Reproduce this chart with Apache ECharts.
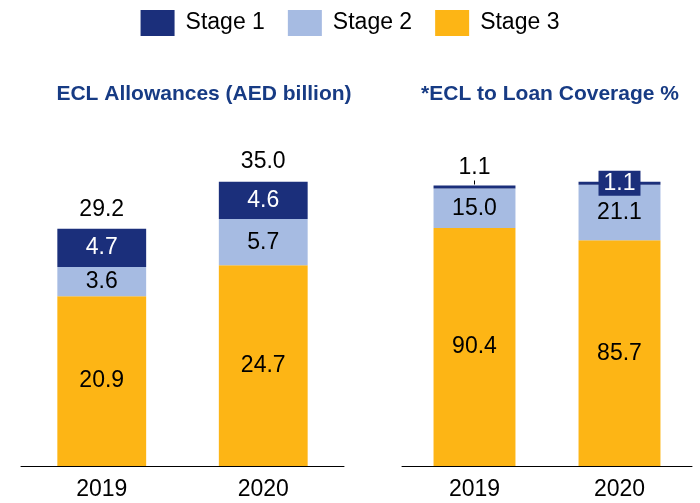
<!DOCTYPE html>
<html>
<head>
<meta charset="utf-8">
<script src="https://cdn.jsdelivr.net/npm/echarts@6/dist/echarts.min.js"></script>
<style>
  html, body { margin: 0; padding: 0; background: #fff; }
  #chart { width: 700px; height: 503px; }
</style>
</head>
<body>
<div id="chart"></div>
<script>
// data
const years = ['2019', '2020']
const stageNames = ['Stage 1', 'Stage 2', 'Stage 3']

// ECL allowances (AED billion)
const eclStage1 = [4.7, 4.6]
const eclStage2 = [3.6, 5.7]
const eclStage3 = [20.9, 24.7]
const eclTotals = [29.2, 35.0]

// ECL to loan coverage %
const covStage1 = [1.1, 1.1]
const covStage2 = [15.0, 21.1]
const covStage3 = [90.4, 85.7]

const NAVY = '#1b2f7b'
const LIGHT = '#a6bbe2'
const GOLD = '#fdb515'
const FONT = '"Liberation Sans", Arial, sans-serif'

const chart = echarts.init(document.getElementById('chart'))

function bar(name, data, idx, stack, barWidth, color, labelColor) {
  return {
    name: name,
    type: 'bar',
    stack: stack,
    xAxisIndex: idx,
    yAxisIndex: idx,
    barWidth: barWidth,
    data: data,
    itemStyle: { color: color },
    label: {
      show: true,
      position: 'inside',
      color: labelColor,
      fontFamily: FONT,
      fontSize: 23,
      formatter: p => p.value.toFixed(1)
    }
  }
}

// right panel stage 1 is too thin, labels sit outside / in a box
const covStage1Data = covStage1.map((v, i) => {
  if (i === 0) {
    return {
      value: v,
      label: {
        position: 'top',
        distance: 1,
        color: '#000',
        formatter: '{v|' + v.toFixed(1) + '}\n{t|}',
        rich: {
          v: { fontSize: 23, fontFamily: FONT, color: '#000', lineHeight: 25 },
          t: { width: 1, height: 4, backgroundColor: '#000' }
        }
      }
    }
  }
  return {
    value: v,
    label: {
      position: 'inside',
      color: '#fff',
      backgroundColor: NAVY,
      padding: [1, 5, 1, 5],
      lineHeight: 23,
      formatter: v.toFixed(1)
    }
  }
})

const axisX = (idx) => ({
  type: 'category',
  gridIndex: idx,
  data: years,
  axisLine: { lineStyle: { color: '#000', width: 1 } },
  axisTick: { show: false },
  axisLabel: { color: '#000', fontFamily: FONT, fontSize: 23, margin: 12 }
})

const option = {
  animation: false,
  legend: {
    top: 5,
    left: 'center',
    data: stageNames,
    itemWidth: 34,
    itemHeight: 26,
    itemGap: 23,
    icon: 'rect',
    textStyle: { color: '#000', fontFamily: FONT, fontSize: 23, padding: [0, 0, 0, 6] }
  },
  title: [
    {
      text: 'ECL Allowances (AED billion)',
      left: 204, top: 84, textAlign: 'center', padding: 0,
      textStyle: { color: '#173b84', fontFamily: FONT, fontSize: 21, fontWeight: 'bold' }
    },
    {
      text: '*ECL to Loan Coverage %',
      left: 550, top: 84, textAlign: 'center', padding: 0,
      textStyle: { color: '#173b84', fontFamily: FONT, fontSize: 21, fontWeight: 'bold' }
    }
  ],
  grid: [
    { left: 21, right: 356, top: 141, bottom: 37 },
    { left: 402, right: 8, top: 150, bottom: 37 }
  ],
  xAxis: [axisX(0), axisX(1)],
  yAxis: [
    { type: 'value', gridIndex: 0, min: 0, max: 40, show: false, splitLine: { show: false } },
    { type: 'value', gridIndex: 1, min: 0, max: 120, show: false, splitLine: { show: false } }
  ],
  series: [
    bar('Stage 3', eclStage3, 0, 'ecl', '55%', GOLD, '#000'),
    bar('Stage 2', eclStage2, 0, 'ecl', '55%', LIGHT, '#000'),
    bar('Stage 1', eclStage1, 0, 'ecl', '55%', NAVY, '#fff'),
    {
      name: 'Total',
      type: 'bar',
      stack: 'ecl',
      xAxisIndex: 0,
      yAxisIndex: 0,
      barWidth: '55%',
      data: eclTotals.map(() => 0),
      itemStyle: { color: 'transparent' },
      label: {
        show: true,
        position: 'top',
        distance: 8,
        color: '#000',
        fontFamily: FONT,
        fontSize: 23,
        formatter: p => eclTotals[p.dataIndex].toFixed(1)
      }
    },
    bar('Stage 3', covStage3, 1, 'cov', '56.5%', GOLD, '#000'),
    bar('Stage 2', covStage2, 1, 'cov', '56.5%', LIGHT, '#000'),
    bar('Stage 1', covStage1Data, 1, 'cov', '56.5%', NAVY, '#fff')
  ]
}

chart.setOption(option)
</script>
</body>
</html>
